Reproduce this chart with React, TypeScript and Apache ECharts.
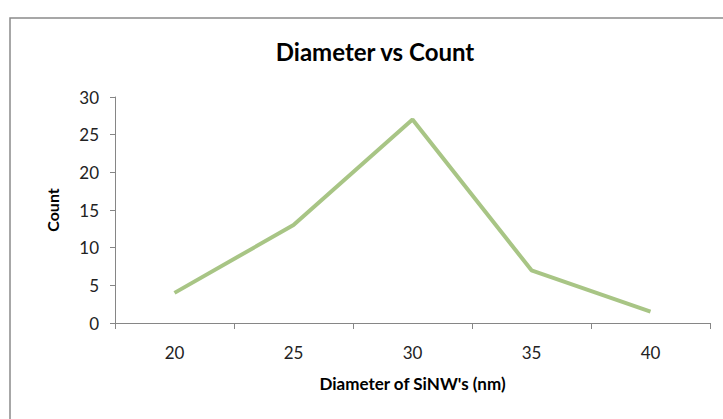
import React, { useEffect, useRef } from "react";
import * as echarts from "echarts";

const categories = ["20", "25", "30", "35", "40"];
const counts = [4, 13, 27, 7, 1.5];
const titleText = "Diameter vs Count";
const xName = "Diameter of SiNW's (nm)";
const yName = "Count";

export default function App() {
  const ref = useRef<HTMLDivElement>(null);
  useEffect(() => {
    if (!ref.current) return;
    const chart = echarts.init(ref.current, null, { renderer: "svg" });
    const font = "Lato, 'Open Sans', sans-serif";
    chart.setOption({
      animation: false,
      backgroundColor: "#ffffff",
      title: {
        text: titleText,
        left: 370,
        top: 34,
        textAlign: "center",
        textStyle: { fontFamily: font, fontWeight: "bold", fontSize: 24, color: "#000" },
      },
      graphic: [
        {
          type: "rect",
          shape: { x: 10, y: 18, width: 800, height: 500 },
          style: { fill: "none", stroke: "#8a8a8a", lineWidth: 1.5 },
          silent: true,
        },
      ],
      grid: { left: 115, top: 97, right: 13, bottom: 96, containLabel: false },
      xAxis: {
        type: "category",
        data: categories,
        boundaryGap: true,
        name: xName,
        nameLocation: "middle",
        nameGap: 52,
        nameTextStyle: { fontFamily: font, fontWeight: "bold", fontSize: 17, color: "#000" },
        axisLine: { show: true, lineStyle: { color: "#868686", width: 1 } },
        axisTick: { show: true, length: 6, lineStyle: { color: "#868686" } },
        axisLabel: { fontFamily: font, fontSize: 17, color: "#222", margin: 21 },
        splitLine: { show: false },
      },
      yAxis: {
        type: "value",
        min: 0,
        max: 30,
        interval: 5,
        name: yName,
        nameLocation: "middle",
        nameGap: 55,
        nameRotate: 90,
        nameTextStyle: { fontFamily: font, fontWeight: "bold", fontSize: 16, color: "#000" },
        axisLine: { show: true, lineStyle: { color: "#868686", width: 1 } },
        axisTick: { show: true, length: 5, lineStyle: { color: "#868686" } },
        axisLabel: { fontFamily: font, fontSize: 17, color: "#222", margin: 16 },
        splitLine: { show: false },
      },
      series: [
        {
          type: "line",
          data: counts,
          symbol: "none",
          lineStyle: { color: "#a8c585", width: 4 },
        },
      ],
    });
    return () => chart.dispose();
  }, []);
  return (
    <div
      ref={ref}
      style={{ position: "fixed", left: 0, top: 0, width: 723, height: 419, background: "#fff" }}
    />
  );
}
